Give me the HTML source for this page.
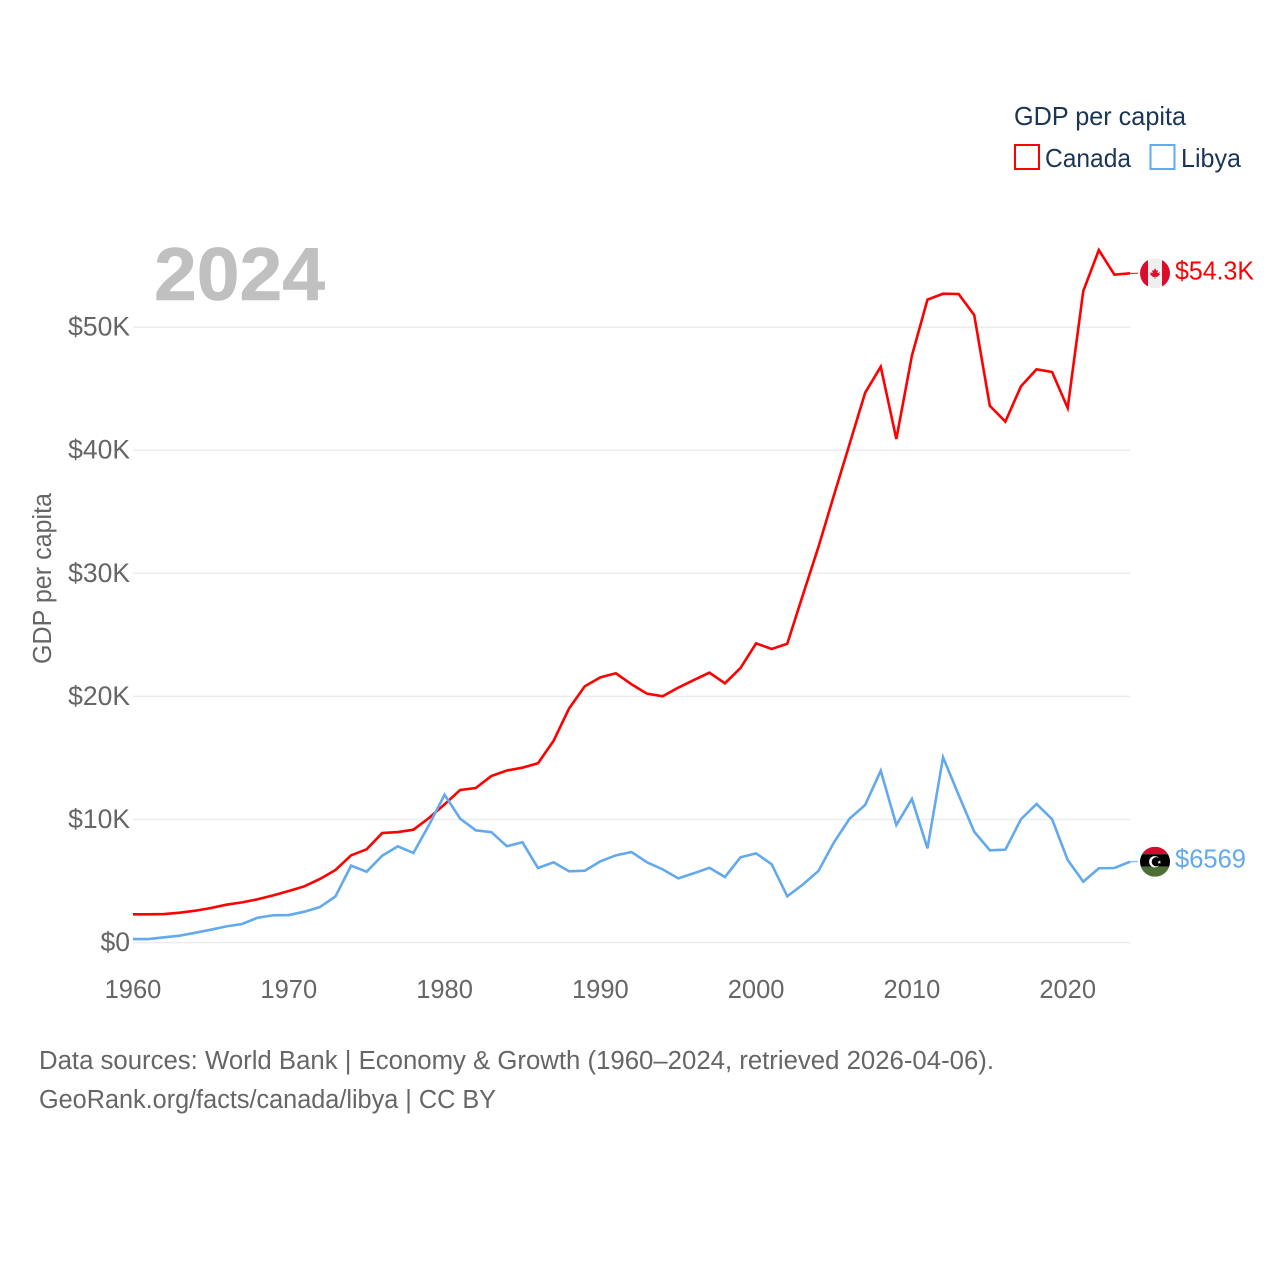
<!DOCTYPE html>
<html lang="en">
<head>
<meta charset="utf-8">
<title>GDP per capita: Canada and Libya</title>
<style>
html,body{margin:0;padding:0;background:#fff;}
svg{display:block;font-family:"Liberation Sans",sans-serif;}
</style>
</head>
<body>
<svg id="chart" width="1280" height="1280" viewBox="0 0 1280 1280" xmlns="http://www.w3.org/2000/svg">
  <defs>
    <clipPath id="flag-clip"><circle cx="0" cy="0" r="15"></circle></clipPath>
  </defs>
  <text x="154" y="300" font-size="75" font-weight="700" fill="#c0c0c0" stroke="#c0c0c0" stroke-width="0.6" textLength="171" lengthAdjust="spacingAndGlyphs">2024</text>

  <g>
    <text x="1014" y="125" font-size="26" fill="#1a3555" textLength="172" lengthAdjust="spacingAndGlyphs">GDP per capita</text>
    <rect x="1015" y="145" width="24" height="24" fill="none" stroke="#ff0000" stroke-width="2"></rect>
    <text x="1045" y="167" font-size="26" fill="#1a3555" textLength="86" lengthAdjust="spacingAndGlyphs">Canada</text>
    <rect x="1150.5" y="145" width="24" height="24" fill="none" stroke="#62a9ee" stroke-width="2"></rect>
    <text x="1181" y="167" font-size="26" fill="#1a3555" textLength="60" lengthAdjust="spacingAndGlyphs">Libya</text>
  </g>

  <text transform="translate(51,664) rotate(-90)" x="0" y="0" font-size="25.5" fill="#666666" textLength="171" lengthAdjust="spacingAndGlyphs">GDP per capita</text>

  <g id="grid"></g>
  <g id="y-ticks"></g>
  <g id="x-ticks"></g>
  <g id="series"></g>

  <g id="flag-canada">
    <g clip-path="url(#flag-clip)">
      <rect x="-15" y="-15" width="30" height="30" fill="#efefef"></rect>
      <rect x="-15" y="-15" width="8" height="30" fill="#dc0d2c"></rect>
      <rect x="7" y="-15" width="8" height="30" fill="#dc0d2c"></rect>
      <polygon fill="#dc0d2c" points="0,-5 1.4,-2.6 3,-3.2 2.3,0 4.8,-1.2 4.2,0.6 5,1.4 2.4,3 2.6,3.8 0.4,3.5 0.4,5.4 -0.4,5.4 -0.4,3.5 -2.6,3.8 -2.4,3 -5,1.4 -4.2,0.6 -4.8,-1.2 -2.3,0 -3,-3.2 -1.4,-2.6"></polygon>
    </g>
  </g>
  <g id="flag-libya">
    <g clip-path="url(#flag-clip)">
      <rect x="-15" y="-15" width="30" height="7.5" fill="#d40b2b"></rect>
      <rect x="-15" y="-7.5" width="30" height="12.5" fill="#000000"></rect>
      <rect x="-15" y="5" width="30" height="10" fill="#4c6f36"></rect>
      <circle cx="-0.3" cy="0" r="5.6" fill="#ffffff"></circle>
      <circle cx="1.3" cy="0" r="4.6" fill="#000000"></circle>
      <polygon fill="#ffffff" points="4.3,-1.6 4.8,-0.1 6.3,-0.1 5.1,0.8 5.5,2.2 4.3,1.3 3.1,2.2 3.5,0.8 2.3,-0.1 3.8,-0.1"></polygon>
    </g>
  </g>

  <text id="value-canada" x="1175" font-size="26" fill="#ff0000" textLength="79" lengthAdjust="spacingAndGlyphs">$54.3K</text>
  <text id="value-libya" x="1175" font-size="26" fill="#62a9ee" textLength="71" lengthAdjust="spacingAndGlyphs">$6569</text>

  <g>
    <text x="39" y="1069" font-size="25.5" fill="#666666" textLength="955" lengthAdjust="spacingAndGlyphs">Data sources: World Bank | Economy &amp; Growth (1960–2024, retrieved 2026-04-06).</text>
    <text x="39" y="1108" font-size="25.5" fill="#666666" textLength="457" lengthAdjust="spacingAndGlyphs">GeoRank.org/facts/canada/libya | CC BY</text>
  </g>
</svg>
<script>
const startYear = 1960;
const xTickYears = [1960, 1970, 1980, 1990, 2000, 2010, 2020];
const yTickValues = [0, 10000, 20000, 30000, 40000, 50000];
const yTickLabels = ["$0", "$10K", "$20K", "$30K", "$40K", "$50K"];
const canadaValues = [
  2299, 2299, 2320, 2430, 2590, 2810, 3080, 3270, 3520, 3840,
  4190, 4570, 5170, 5900, 7090, 7580, 8900, 8980, 9170, 10120,
  11230, 12400, 12560, 13530, 13980, 14210, 14570, 16400, 19030, 20820,
  21550, 21880, 20980, 20220, 20010, 20710, 21330, 21930, 21060, 22310,
  24310, 23850, 24280, 28240, 32140, 36360, 40500, 44670, 46780, 40910,
  47680, 52230, 52710, 52690, 50980, 43610, 42320, 45190, 46570, 46350,
  43430, 52930, 56260, 54260, 54370
];
const libyaValues = [
  290, 290, 430, 560, 800, 1050, 1320, 1510, 2020, 2220,
  2240, 2510, 2890, 3760, 6250, 5760, 7060, 7820, 7280, 9550,
  12010, 10070, 9120, 8980, 7830, 8150, 6060, 6520, 5790, 5840,
  6600, 7090, 7360, 6520, 5950, 5220, 5630, 6080, 5330, 6930,
  7250, 6360, 3760, 4720, 5820, 8150, 10070, 11180, 13960, 9550,
  11670, 7660, 15050, 11990, 9010, 7500, 7550, 10020, 11260, 10020,
  6710, 4950, 6040, 6060, 6569
];

const NS = "http://www.w3.org/2000/svg";
const plotLeft = 133;
const plotRight = 1130;
const yearSpan = 64;
const zeroY = 942.6;
const pxPerDollar = 12.31 / 1000;
const connectorEnd = 1138;

function xScale(year) {
  return plotLeft + (year - startYear) * (plotRight - plotLeft) / yearSpan;
}
function yScale(value) {
  return zeroY - value * pxPerDollar;
}
function make(tag, attrs, parent) {
  const el = document.createElementNS(NS, tag);
  Object.keys(attrs).forEach(function (k) { el.setAttribute(k, attrs[k]); });
  parent.appendChild(el);
  return el;
}

const gridGroup = document.getElementById("grid");
const yTickGroup = document.getElementById("y-ticks");
yTickValues.forEach(function (v, i) {
  const rule = make("line", {
    x1: plotLeft, x2: plotRight, y1: yScale(v), y2: yScale(v),
    stroke: "#ececec", "stroke-width": 1.5
  }, gridGroup);
  
  
  const label = make("text", {
    x: 130, y: yScale(v) + 8.5, "text-anchor": "end",
    "font-size": 26.5, fill: "#666666"
  }, yTickGroup);
  
  
  label.textContent = yTickLabels[i];
});

const xTickGroup = document.getElementById("x-ticks");
xTickYears.forEach(function (year) {
  const label = make("text", {
    x: xScale(year), y: 998, "text-anchor": "middle",
    "font-size": 25.5, fill: "#666666"
  }, xTickGroup);
  
  
  label.textContent = String(year);
});

function pathFor(values) {
  return values.map(function (v, i) {
    return (i === 0 ? "M" : "L") + xScale(startYear + i).toFixed(2) + " " + yScale(v).toFixed(2);
  }).join(" ");
}

const seriesGroup = document.getElementById("series");

const canadaLine = make("path", {
  d: pathFor(canadaValues), fill: "none", stroke: "#ff0000",
  "stroke-width": 2.6, "stroke-linejoin": "miter"
}, seriesGroup);



const libyaLine = make("path", {
  d: pathFor(libyaValues), fill: "none", stroke: "#62a9ee",
  "stroke-width": 2.6, "stroke-linejoin": "miter"
}, seriesGroup);



const canadaLast = yScale(canadaValues[canadaValues.length - 1]);
const libyaLast = yScale(libyaValues[libyaValues.length - 1]);

const canadaConnector = make("line", {
  x1: plotRight, x2: connectorEnd, y1: canadaLast, y2: canadaLast,
  stroke: "#ff0000", "stroke-width": 1
}, seriesGroup);



const libyaConnector = make("line", {
  x1: plotRight, x2: connectorEnd, y1: libyaLast, y2: libyaLast,
  stroke: "#62a9ee", "stroke-width": 1
}, seriesGroup);



document.getElementById("flag-canada").setAttribute("transform", "translate(1155," + canadaLast + ")");
document.getElementById("flag-libya").setAttribute("transform", "translate(1155," + libyaLast + ")");
document.getElementById("value-canada").setAttribute("y", canadaLast + 6);
document.getElementById("value-libya").setAttribute("y", libyaLast + 6);
</script>
</body>
</html>
